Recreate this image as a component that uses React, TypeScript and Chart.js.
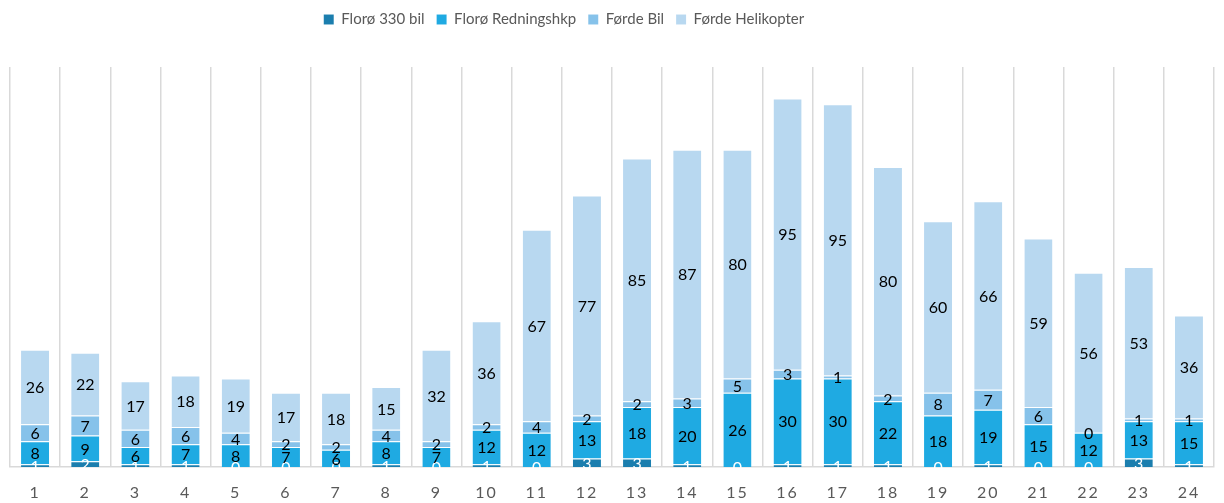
import React, { useEffect, useRef } from "react";
import { Chart, registerables } from "chart.js";

Chart.register(...registerables);

const categories = ["1","2","3","4","5","6","7","8","9","10","11","12","13","14","15","16","17","18","19","20","21","22","23","24"];
const floro330Bil = [1,2,1,1,0,0,0,1,0,1,0,3,3,1,0,1,1,1,0,1,0,0,3,1];
const floroRedningshkp = [8,9,6,7,8,7,6,8,7,12,12,13,18,20,26,30,30,22,18,19,15,12,13,15];
const fordeBil = [6,7,6,6,4,2,2,4,2,2,4,2,2,3,5,3,1,2,8,7,6,0,1,1];
const fordeHelikopter = [26,22,17,18,19,17,18,15,32,36,67,77,85,87,80,95,95,80,60,66,59,56,53,36];
const seriesNames = ["Florø 330 bil", "Florø Redningshkp", "Førde Bil", "Førde Helikopter"];
const seriesColors = ["#1B7EAE", "#1FAAE2", "#86C2EA", "#B8D8F0"];
const labelColors = ["#FFFFFF", "#000000", "#000000", "#000000"];

const FONT = "Lato, 'Noto Sans', sans-serif";
const LEGEND_HEIGHT = 67;
const XAXIS_HEIGHT = 36;

const dataLabelPlugin = {
  id: "dataLabels",
  afterDatasetsDraw(chart: any) {
    const ctx = chart.ctx;
    ctx.save();
    ctx.font = `16px ${FONT}`;
    ctx.textAlign = "center";
    ctx.textBaseline = "middle";
    chart.data.datasets.forEach((ds: any, di: number) => {
      const meta = chart.getDatasetMeta(di);
      meta.data.forEach((el: any, i: number) => {
        const v = ds.data[i];
        const y = (el.y + el.base) / 2;
        ctx.fillStyle = labelColors[di];
        ctx.fillText(String(v), el.x, y + 1);
      });
    });
    ctx.restore();
  },
};

const layoutTweaks = {
  id: "layoutTweaks",
  beforeInit(chart: any) {
    const lg = chart.legend;
    if (lg) {
      const origFit = lg.fit.bind(lg);
      lg.fit = function () {
        origFit();
        this.height = LEGEND_HEIGHT;
      };
    }
  },
  afterLayout(chart: any) {
    const lg = chart.legend;
    if (lg) {
      lg.left -= 48;
      lg.right -= 48;
    }
    const xs: any = chart.scales.x;
    if (xs && !xs._lsWrapped) {
      const orig = xs.drawLabels.bind(xs);
      xs.drawLabels = (area: any) => {
        const c = chart.ctx;
        const prev = c.letterSpacing;
        c.letterSpacing = "2px";
        orig(area);
        c.letterSpacing = prev || "0px";
      };
      xs._lsWrapped = true;
    }
  },
};

export default function App() {
  const ref = useRef<HTMLCanvasElement>(null);
  useEffect(() => {
    document.body.style.margin = "0";
    const values = [floro330Bil, floroRedningshkp, fordeBil, fordeHelikopter];
    const chart = new Chart(ref.current as HTMLCanvasElement, {
      type: "bar",
      data: {
        labels: categories,
        datasets: values.map((d, i) => ({
          label: seriesNames[i],
          data: d,
          backgroundColor: seriesColors[i],
          borderColor: "rgba(255,255,255,0.25)",
          borderWidth: { top: 1, left: 0, right: 0, bottom: 0 },
          borderSkipped: "start",
          barPercentage: 0.56,
          categoryPercentage: 1,
          stack: "s",
        })),
      },
      options: {
        animation: false,
        responsive: false,
        maintainAspectRatio: false,
        layout: { padding: { left: 10, right: 10, top: 0, bottom: 0 } },
        plugins: {
          legend: {
            position: "top",
            labels: {
              boxWidth: 10,
              boxHeight: 10,
              padding: 12,
              color: "#595959",
              font: { family: FONT, size: 15 },
            },
          },
          tooltip: { enabled: false },
        },
        scales: {
          x: {
            stacked: true,
            grid: { display: true, offset: true, color: "#D9D9D9", lineWidth: 1.5, drawTicks: false },
            border: { display: true, color: "#D9D9D9", width: 1.5 },
            ticks: { color: "#595959", font: { family: FONT, size: 16 }, padding: 16, maxRotation: 0 },
            afterFit: (scale: any) => {
              scale.height = XAXIS_HEIGHT;
            },
          },
          y: {
            stacked: true,
            display: false,
            min: 0,
            max: 140,
          },
        },
      },
      plugins: [dataLabelPlugin, layoutTweaks],
    } as any);
    return () => chart.destroy();
  }, []);
  return <canvas ref={ref} width={1224} height={503} style={{ display: "block" }} />;
}
